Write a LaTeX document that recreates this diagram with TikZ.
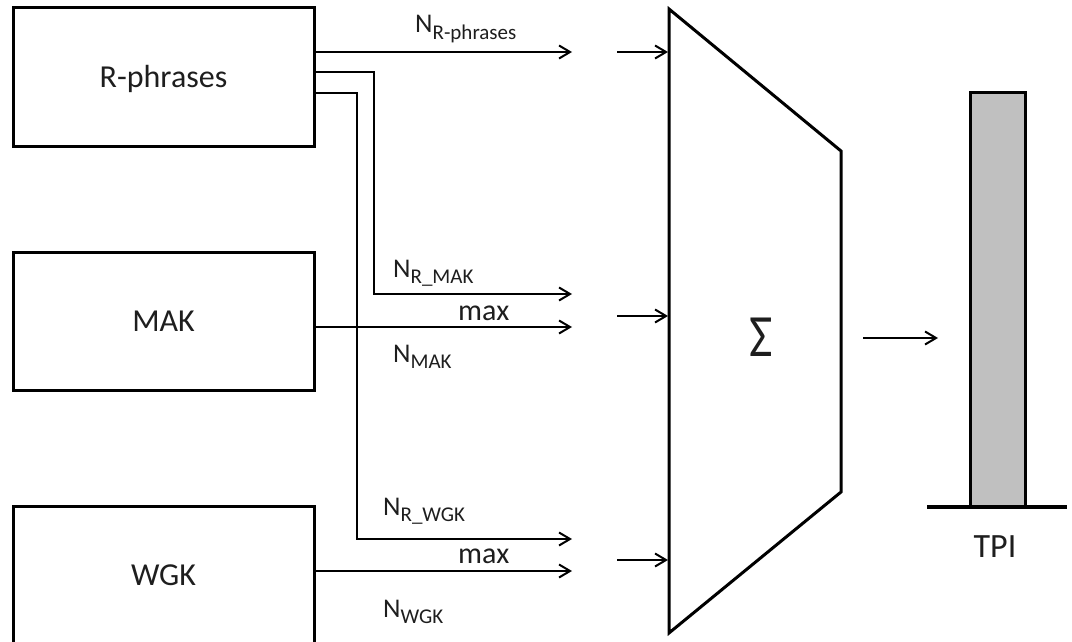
\documentclass[tikz,border=0pt]{standalone}
\usepackage{fontspec}
\setmainfont{Carlito}
\usetikzlibrary{arrows.meta}
\definecolor{txt}{RGB}{30,30,30}
\definecolor{barfill}{RGB}{192,192,192}
\newcommand{\mylabsub}[2]{{\fontsize{27}{27}\selectfont #1}\raisebox{-6.5pt}{\fontsize{21}{21}\selectfont #2}}
\tikzset{
  box/.style={draw, line width=3pt, inner sep=0pt, minimum width=301pt, minimum height=138pt,
    font=\fontsize{32}{32}\selectfont, text=txt, text height=21pt, text depth=0pt},
  conn/.style={line width=2pt, -{Straight Barb[length=11pt,width=13pt,line width=2pt]}},
  lab/.style={anchor=base west, inner sep=0pt, text=txt},
  maxlab/.style={anchor=base west, inner sep=0pt, text=txt, font=\fontsize{30}{30}\selectfont},
}
\begin{document}
\begin{tikzpicture}[x=1pt,y=-1pt]
\useasboundingbox (0,0) rectangle (1072,642);
\clip (0,0) rectangle (1072,642);
% boxes
\node[box] (rp) at (163.5,77) {R-phrases};
\node[box] (mak) at (163.5,321) {MAK};
\node[box] (wgk) at (163.5,575) {WGK};
% arrow end coordinates
\coordinate (a1) at (572,52);
\coordinate (a2) at (572,294);
\coordinate (a3) at (572,327);
\coordinate (a4) at (572,539);
\coordinate (a5) at (572,571);
\coordinate (b2) at (374,72);
\coordinate (b4) at (357,93);
% connectors from boxes
\draw[conn] (rp.east |- a1) -- (a1);
\draw[conn] (rp.east |- b2) -- (b2) |- (a2);
\draw[conn] (rp.east |- b4) -- (b4) |- (a4);
\draw[conn] (mak.east |- a3) -- (a3);
\draw[conn] (wgk.east |- a5) -- (a5);
% labels
\node[lab] (l1) at (415,33) {\mylabsub{N}{R-phrases}};
\node[lab] (l2) at (393,277) {\mylabsub{N}{R\_MAK}};
\node[maxlab] (m1) at (458,320) {max};
\node[lab] (l3) at (393,362) {\mylabsub{N}{MAK}};
\node[lab] (l4) at (383,515) {\mylabsub{N}{R\_WGK}};
\node[maxlab] (m2) at (458,563) {max};
\node[lab] (l5) at (383,617) {\mylabsub{N}{WGK}};
% trapezoid
\coordinate (t1) at (669,9);
\coordinate (t2) at (841,151);
\coordinate (t3) at (841,492);
\coordinate (t4) at (669,633);
\draw[line width=3pt, line join=miter] (t1) -- (t2) -- (t3) -- (t4) -- cycle;
\node[inner sep=0pt, text=txt, font=\fontsize{60}{60}\selectfont, text height=39pt, text depth=0pt] (sig) at (761.5,337) {\scalebox{0.85}[1]{Σ}};
% inputs to trapezoid
\coordinate (i1) at (617,52);  \coordinate (j1) at (668,52);
\coordinate (i2) at (617,316); \coordinate (j2) at (668,316);
\coordinate (i3) at (617,560); \coordinate (j3) at (668,560);
\draw[conn] (i1) -- (j1);
\draw[conn] (i2) -- (j2);
\draw[conn] (i3) -- (j3);
% output
\coordinate (o1) at (863,338);
\coordinate (o2) at (938,338);
\draw[conn] (o1) -- (o2);
% TPI bar
\node[draw, line width=3pt, fill=barfill, inner sep=0pt, minimum width=55pt, minimum height=414pt] (bar) at (997.5,300) {};
\coordinate (g1) at (927,507);
\coordinate (g2) at (1067,507);
\draw[line width=4.5pt] (g1) -- (g2);
\node[inner sep=0pt, text=txt, font=\fontsize{34}{34}\selectfont, text height=22pt, text depth=0pt] (tpi) at (995,546) {TPI};
\end{tikzpicture}
\end{document}
